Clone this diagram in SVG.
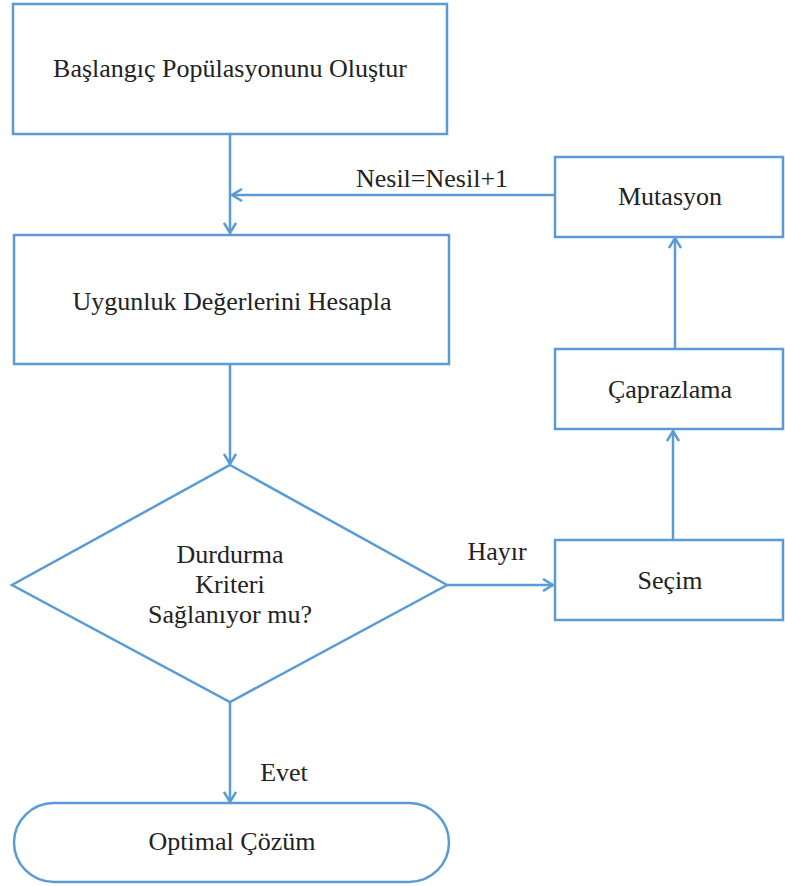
<svg xmlns="http://www.w3.org/2000/svg" width="785" height="886" viewBox="0 0 785 886">
<style>
.s{fill:#fff;stroke:#5B9BD5;stroke-width:2.5}
.c{fill:none;stroke:#5B9BD5;stroke-width:2.5}
.t{font-size:26px;fill:#222;text-anchor:middle}
</style>
<defs>
<marker id="a" markerWidth="14" markerHeight="14" refX="12" refY="7" orient="auto" markerUnits="userSpaceOnUse">
<path d="M2,1 L12,7 L2,13" fill="none" stroke="#5B9BD5" stroke-width="2.5"/>
</marker>
</defs>
<rect width="785" height="886" fill="#fff"/>
<g font-family="'Liberation Serif', Tinos, 'Times New Roman', 'DejaVu Serif', serif">
<g id="connectors">
<line class="c" x1="230" y1="135" x2="230" y2="233" marker-end="url(#a)"/>
<line class="c" x1="555" y1="195" x2="232" y2="195" marker-end="url(#a)"/>
<line class="c" x1="230" y1="364" x2="230" y2="464" marker-end="url(#a)"/>
<line class="c" x1="447" y1="585" x2="553" y2="585" marker-end="url(#a)"/>
<line class="c" x1="673" y1="540" x2="673" y2="431" marker-end="url(#a)"/>
<line class="c" x1="675" y1="349" x2="675" y2="238" marker-end="url(#a)"/>
<line class="c" x1="230" y1="702" x2="230" y2="802" marker-end="url(#a)"/>
<text class="t" x="432" y="187">Nesil=Nesil+1</text>
<text class="t" x="497" y="560">Hayır</text>
<text class="t" x="284" y="781">Evet</text>
</g>
<g id="start"><rect class="s" x="13" y="4" width="434" height="130"/><text class="t" x="230" y="77">Başlangıç Popülasyonunu Oluştur</text></g>
<g id="fitness"><rect class="s" x="14" y="235" width="435" height="129"/><text class="t" x="232" y="310">Uygunluk Değerlerini Hesapla</text></g>
<g id="decision"><polygon class="s" points="230,465 447,585 230,702 12,585"/>
<text class="t" x="230" y="563">Durdurma</text><text class="t" x="230" y="593">Kriteri</text><text class="t" x="230" y="623">Sağlanıyor mu?</text></g>
<g id="mutasyon"><rect class="s" x="555" y="157" width="228" height="80"/><text class="t" x="670" y="205">Mutasyon</text></g>
<g id="caprazlama"><rect class="s" x="555" y="349" width="228" height="80"/><text class="t" x="670" y="398">Çaprazlama</text></g>
<g id="secim"><rect class="s" x="555" y="540" width="228" height="80"/><text class="t" x="670" y="589">Seçim</text></g>
<g id="optimal"><rect class="s" x="14" y="803" width="435" height="79" rx="40" ry="39.5"/><text class="t" x="232" y="850">Optimal Çözüm</text></g>
</g>
</svg>
